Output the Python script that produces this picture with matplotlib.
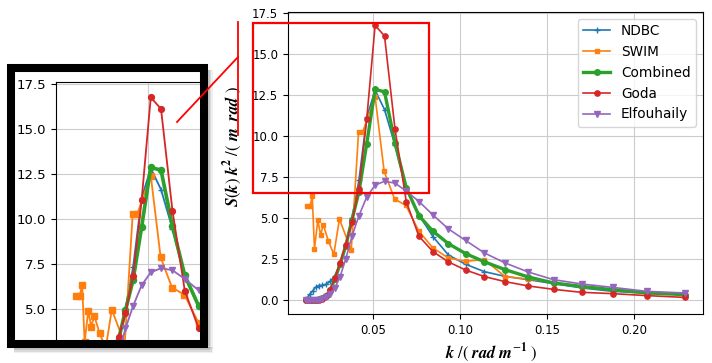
import numpy as np
import matplotlib.pyplot as plt
from matplotlib.patches import Rectangle
from matplotlib.lines import Line2D

plt.rcParams['mathtext.fontset'] = 'stix'

# wavenumber grid shared by NDBC, Combined, Goda and Elfouhaily (rad/m)
k_grid = [0.0115, 0.0127, 0.0140, 0.0155, 0.0171, 0.0189, 0.0209, 0.0231,
          0.0255, 0.0282, 0.0312, 0.0344, 0.0380, 0.0420, 0.0465, 0.0513,
          0.0567, 0.0627, 0.0692, 0.0765, 0.0845, 0.0934, 0.1032, 0.1140,
          0.1259, 0.1391, 0.1537, 0.1698, 0.1876, 0.2073, 0.2290]

ndbc = [0.03, 0.2, 0.4, 0.58, 0.8, 0.9, 0.92, 0.98, 1.15, 1.5, 2.2, 3.3,
        5.0, 7.3, 11.15, 12.8, 11.62, 9.45, 6.8, 5.2, 3.88, 2.76, 2.2, 1.75,
        1.46, 1.26, 1.02, 0.76, 0.55, 0.45, 0.35]

combined = [0.0, 0.0, 0.01, 0.02, 0.04, 0.08, 0.14, 0.28, 0.62, 1.3, 2.2,
            3.3, 4.9, 6.6, 9.55, 12.85, 12.7, 9.6, 6.85, 5.15, 4.21, 3.45,
            2.85, 2.35, 1.87, 1.43, 1.06, 0.85, 0.65, 0.45, 0.35]

goda = [0.0, 0.0, 0.0, 0.0, 0.01, 0.03, 0.1, 0.25, 0.65, 1.35, 2.3, 3.4,
        4.75, 6.8, 11.05, 16.75, 16.1, 10.45, 6.0, 3.9, 2.97, 2.34, 1.85,
        1.45, 1.14, 0.88, 0.67, 0.49, 0.41, 0.29, 0.18]

elfouhaily = [0.0, 0.0, 0.0, 0.01, 0.02, 0.05, 0.1, 0.2, 0.4, 0.75, 1.45,
              2.5, 3.9, 5.15, 6.3, 7.02, 7.25, 7.14, 6.65, 6.02, 5.2, 4.35,
              3.65, 2.89, 2.28, 1.73, 1.26, 1.0, 0.79, 0.55, 0.45]

# SWIM has its own grid
k_swim = [0.0121, 0.0140, 0.0152, 0.0165, 0.0184, 0.0200, 0.0216, 0.0244,
          0.0276, 0.0308, 0.0376, 0.0418, 0.0442, 0.0513, 0.0565, 0.0625,
          0.0690, 0.0765, 0.0845, 0.0934, 0.1032, 0.1140, 0.1259, 0.1391,
          0.1537, 0.1698, 0.1876, 0.2073, 0.2290]
swim = [5.73, 5.73, 6.34, 3.14, 4.87, 4.0, 4.6, 3.63, 2.8, 4.95, 3.05, 10.26,
        10.26, 12.4, 7.85, 6.17, 5.78, 4.2, 3.19, 2.58, 2.38, 2.48, 1.45, 1.3,
        1.1, 0.8, 0.65, 0.45, 0.35]

W, H = 712, 363


def fx(x):
    return x / W


def fy(y):
    return 1 - y / H


def draw(ax, s=1.0):
    ax.plot(k_grid, ndbc, color='tab:blue', marker='+', ms=4 * s, lw=1.2 * s, label='NDBC')
    ax.plot(k_swim, swim, color='tab:orange', marker='s', ms=3.5 * s, lw=1.2 * s, label='SWIM')
    ax.plot(k_grid, combined, color='tab:green', marker='o', ms=4 * s, lw=2.4 * s, label='Combined')
    ax.plot(k_grid, goda, color='tab:red', marker='o', ms=3.8 * s, lw=1.2 * s, label='Goda')
    ax.plot(k_grid, elfouhaily, color='tab:purple', marker='v', ms=4.5 * s, lw=1.2 * s, label='Elfouhaily')


fig = plt.figure(figsize=(7.12, 3.63), dpi=100)

# main plot
ax = fig.add_axes([fx(288), fy(314), (703 - 288) / W, (314 - 12) / H])
draw(ax)
ax.set_xlim(0.0013, 0.2395)
ax.set_ylim(-0.83, 17.56)
ax.set_xticks([0.05, 0.10, 0.15, 0.20])
ax.set_yticks(np.arange(0, 17.6, 2.5))
ax.tick_params(labelsize=8.5)
ax.grid(True, color='#cccccc')
ax.legend(loc='upper right', fontsize=9.8)
ax.set_xlabel(r'$\mathbfit{k}\ /\left(\ \mathbfit{rad}\ \mathbfit{m}^{-\mathbf{1}}\ \right)$', fontsize=12)
ax.set_ylabel(r'$\mathbfit{S}\left(\mathbfit{k}\right)\ \mathbfit{k}^{\mathbf{2}}\ /\left(\ \mathbfit{m}\ \ \mathbfit{rad}\ \right)$',
              fontsize=12)
ax.yaxis.set_label_coords(-0.105, 0.553)
ax.xaxis.set_label_coords(0.49, -0.09)

# zoomed inset on the left
ins = fig.add_axes([fx(56), fy(340), (200 - 56) / W, (340 - 82) / H])
draw(ins, 1.1)
ins.set_xlim(0.00145, 0.0772)
ins.set_ylim(3.26, 17.6)
ins.set_xticks([0.05])
ins.set_yticks([5, 7.5, 10, 12.5, 15, 17.5])
ins.tick_params(labelbottom=False, bottom=False, labelsize=9.5)
ins.spines['right'].set_visible(False)
ins.spines['bottom'].set_visible(False)
ins.grid(True, color='#cccccc')

# shadow and black frame round the inset
for off, a in [(6, 0.12), (4.5, 0.18), (3, 0.25)]:
    fig.add_artist(Rectangle((fx(207), fy(343 + off)), off / W, (343 + off - 70) / H,
                             transform=fig.transFigure, color='gray', alpha=a, lw=0, zorder=2))
    fig.add_artist(Rectangle((fx(14), fy(347 + off)), (207 + off - 14) / W, off / H,
                             transform=fig.transFigure, color='gray', alpha=a, lw=0, zorder=2))
fig.add_artist(Rectangle((fx(11), fy(343.5)), (203.5 - 11) / W, (343.5 - 68) / H,
                         transform=fig.transFigure, fill=False, ec='black', lw=5.8, zorder=3))

# red marker box and connector lines
fig.add_artist(Rectangle((fx(252.7), fy(193)), (429 - 252.7) / W, (193 - 23) / H,
                         transform=fig.transFigure, fill=False, ec='red', lw=1.6, zorder=4))
fig.add_artist(Line2D([fx(177), fx(238)], [fy(122), fy(57)], transform=fig.transFigure,
                      color='red', lw=1.3, zorder=4))
fig.add_artist(Line2D([fx(237.5), fx(237.5)], [fy(22), fy(135)], transform=fig.transFigure,
                      color='red', lw=1.3, zorder=4))

fig.savefig('out.png', dpi=100)
